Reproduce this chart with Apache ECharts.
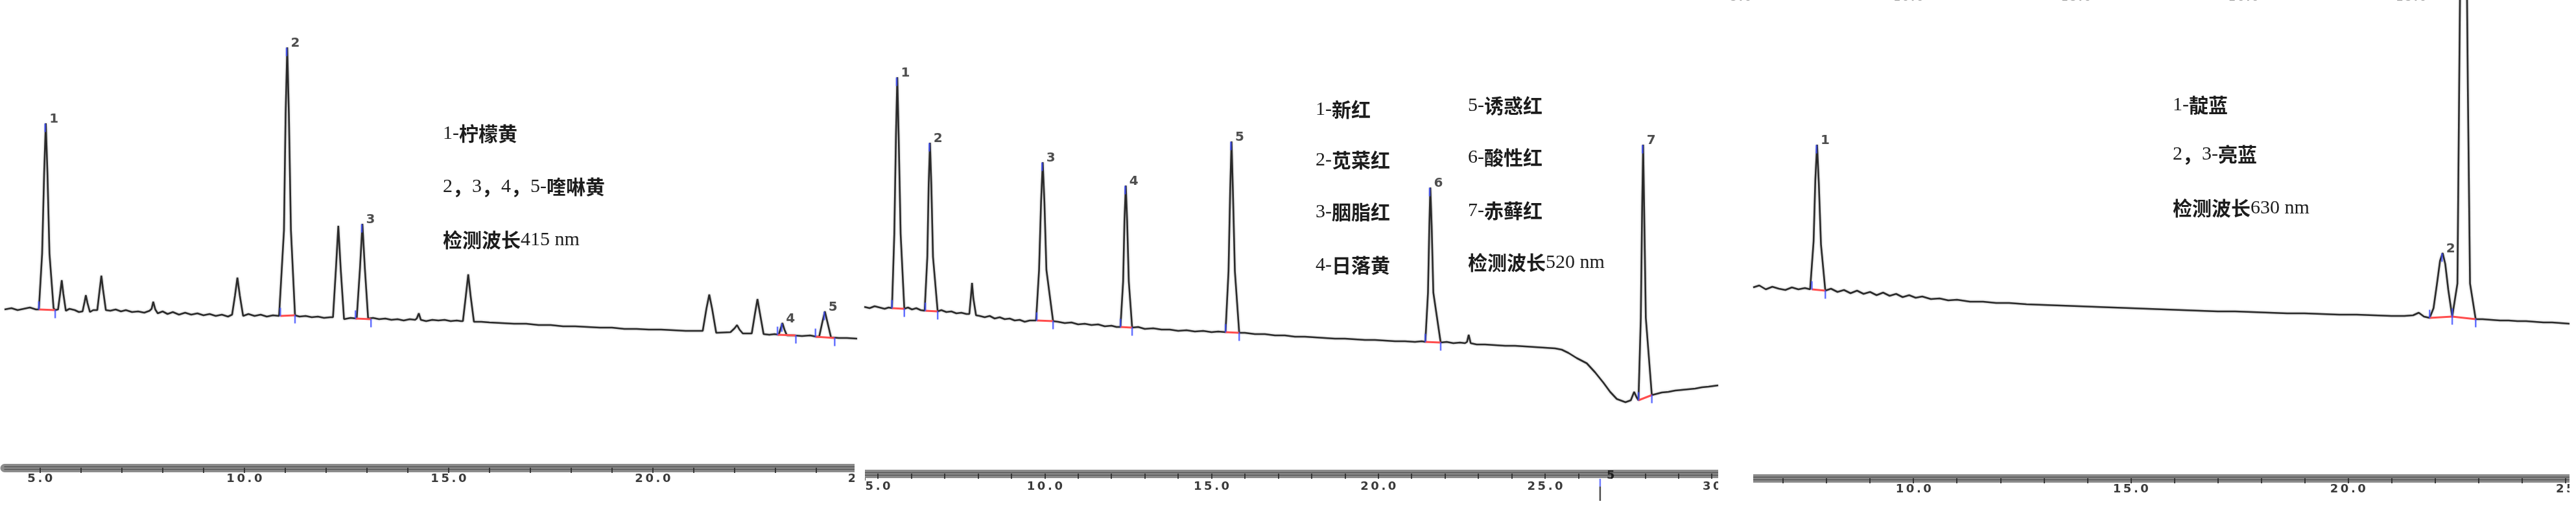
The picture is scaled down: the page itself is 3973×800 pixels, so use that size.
<!DOCTYPE html>
<html><head><meta charset="utf-8">
<script src="https://cdn.jsdelivr.net/npm/echarts@6/dist/echarts.min.js"></script>
<style>html,body{margin:0;padding:0;background:#fff}#c{width:3973px;height:800px}</style>
</head><body><div id="c"></div>
<script>
// ---------------- DATA (retention time in min, detector signal in arbitrary units) ----------------
// Panel 1 : 415 nm
const p1Trace = [[4.13,244],[4.3,246],[4.45,243],[4.6,245],[4.75,247],[4.9,244],
 [4.97,244],[5.05,330],[5.10,455],[5.14,531],[5.18,455],[5.23,330],[5.33,246],[5.37,243],
 [5.44,244],[5.49,268],[5.53,289],[5.57,268],[5.63,242],[5.72,245],[5.85,243],[5.95,240],
 [6.04,241],[6.09,256],[6.12,266],[6.16,254],[6.22,240],[6.3,243],
 [6.40,243],[6.46,275],[6.50,296],[6.54,275],[6.61,243],
 [6.72,242],[6.85,244],[6.98,241],[7.1,243],[7.25,240],[7.4,241],[7.55,239],[7.68,242],
 [7.73,245],[7.77,256],[7.82,244],[7.88,238],
 [8.0,241],[8.12,237],[8.25,240],[8.4,236],[8.55,239],[8.7,236],[8.85,238],[9.0,235],[9.15,237],[9.3,234],[9.45,236],[9.6,233],
 [9.70,236],[9.77,265],[9.83,293],[9.89,265],[9.97,234],
 [10.1,237],[10.25,234],[10.4,236],[10.55,233],[10.7,235],[10.85,234],
 [10.88,234],[10.97,366],[11.01,545],[11.05,648],[11.09,545],[11.14,366],[11.24,235],
 [11.35,233],[11.5,234],[11.65,232],[11.8,233],[11.95,231],[12.1,232],
 [12.17,232],[12.24,305],[12.30,373],[12.36,305],[12.44,229],[12.6,231],
 [12.75,230],[12.83,307],[12.89,376],[12.95,307],[13.03,230],
 [13.15,231],[13.3,229],[13.45,230],[13.6,228],[13.75,229],[13.9,227],[14.05,229],[14.18,228],
 [14.22,230],[14.27,238],[14.32,228],
 [14.45,226],[14.6,228],[14.75,227],[14.9,228],[15.05,226],[15.2,227],[15.3,226],
 [15.35,226],[15.42,264],[15.48,298],[15.54,264],[15.62,225],
 [15.8,225],[16.0,224],[16.3,223],[16.6,222],[16.9,222],[17.2,220],[17.5,220],[17.8,218],[18.1,218],[18.4,217],[18.7,216],[19.0,216],[19.3,214],[19.6,214],[19.9,213],[20.2,213],[20.5,212],[20.8,211],[21.1,211],
 [21.22,211],[21.31,245],[21.38,267],[21.45,245],[21.55,208],
 [21.9,209],[22.0,215],[22.06,220],[22.12,213],[22.2,207],
 [22.42,207],[22.50,238],[22.56,260],[22.62,238],[22.71,206],
 [22.85,205],[22.98,206],
 [23.08,205],[23.13,215],[23.17,223],[23.22,213],[23.28,204],
 [23.45,204],[23.65,203],[23.85,204],[24.0,202],
 [24.07,202],[24.15,225],[24.21,241],[24.27,225],[24.36,201],
 [24.55,200],[24.75,200],[25.0,199]];
const p1PeakNames = ['1','2','3','4','5'];
const p1Apex  = [[5.14,531],[11.05,648],[12.89,376],[23.17,223],[24.21,241]];
const p1Start = [[4.97,244],[10.88,234],[12.72,230],[23.05,205],[23.98,202]];
const p1End   = [[5.37,243],[11.24,235],[13.10,229],[23.50,204],[24.45,200]];
const p1TickValues  = [5,6,7,8,9,10,11,12,13,14,15,16,17,18,19,20,21,22,23,24,25];
const p1LabelValues = [5,10,15,20,25];
const p1LabelText   = ['5.0','10.0','15.0','20.0','25'];
const p1Notes = ['1-柠檬黄','2，3，4，5-喹啉黄','检测波长415 nm'];

// Panel 2 : 520 nm
const p2Trace = [[4.59,257],[4.75,255],[4.9,258],[5.05,256],[5.2,254],[5.32,256],
 [5.42,255],[5.49,369],[5.54,522],[5.58,611],[5.62,522],[5.68,369],[5.79,254],
 [5.9,256],[6.02,253],[6.15,255],[6.28,252],
 [6.40,251],[6.48,334],[6.52,445],[6.56,510],[6.60,445],[6.65,334],[6.79,250],
 [6.9,252],[7.05,249],[7.2,250],[7.35,247],[7.5,248],[7.65,246],
 [7.74,246],[7.79,275],[7.82,294],[7.86,270],[7.94,244],
 [8.05,243],[8.2,241],[8.35,243],[8.5,239],[8.65,241],[8.8,238],[8.95,239],[9.1,236],[9.25,237],[9.4,234],[9.55,236],
 [9.74,236],[9.83,314],[9.89,419],[9.94,480],[9.99,419],[10.05,314],[10.25,235],
 [10.4,234],[10.6,232],[10.8,233],[11.0,230],[11.2,231],[11.4,229],[11.6,230],[11.8,227],[12.0,228],[12.15,226],
 [12.27,226],[12.35,296],[12.39,390],[12.43,444],[12.47,390],[12.52,296],[12.62,225],
 [12.8,226],[13.0,223],[13.25,224],[13.5,222],[13.75,222],[14.0,220],[14.25,221],[14.5,219],[14.75,220],[15.0,218],[15.2,219],
 [15.42,218],[15.51,312],[15.56,438],[15.60,512],[15.64,438],[15.70,312],[15.83,217],
 [16.0,217],[16.3,215],[16.6,215],[16.9,213],[17.2,213],[17.5,211],[17.8,211],[18.1,210],[18.4,209],[18.7,208],[19.0,208],[19.3,207],[19.6,206],[19.9,206],[20.2,205],[20.5,204],[20.8,204],[21.1,203],[21.3,204],
 [21.41,203],[21.49,279],[21.53,382],[21.56,441],[21.60,382],[21.65,279],[21.87,202],
 [22.05,203],[22.25,201],[22.45,202],[22.6,201],
 [22.66,203],[22.71,214],[22.77,201],
 [22.95,199],[23.2,199],[23.5,198],[23.8,197],[24.1,197],[24.4,196],[24.7,195],[25.0,194],[25.3,193],[25.5,191],
 [25.7,186],[25.95,178],[26.25,170],[26.5,156],[26.75,140],[26.95,126],[27.15,115],[27.41,110],[27.57,113],[27.67,126],[27.74,118],
 [27.80,113],[27.87,240],[27.91,410],[27.94,507],[27.97,410],[28.02,240],[28.20,121],
 [28.35,123],[28.5,125],[28.7,126],[28.9,128],[29.1,129],[29.3,130],[29.5,131],[29.7,133],[29.9,134],[30.19,136]];
const p2PeakNames = ['1','2','3','4','5','6','7'];
const p2Apex  = [[5.58,611],[6.56,510],[9.94,480],[12.43,444],[15.60,512],[21.56,441],[27.94,507]];
const p2Start = [[5.42,255],[6.42,251],[9.76,236],[12.27,226],[15.42,218],[21.41,203],[27.80,113]];
const p2End   = [[5.79,254],[6.79,250],[10.25,235],[12.62,225],[15.83,217],[21.87,202],[28.20,121]];
const p2EventTime = 26.65;
const p2TickValues  = [5,6,7,8,9,10,11,12,13,14,15,16,17,18,19,20,21,22,23,24,25,26,27,28,29,30];
const p2LabelValues = [5,10,15,20,25,30];
const p2LabelText   = ['5.0','10.0','15.0','20.0','25.0','30'];
const p2NotesLeft  = ['1-新红','2-苋菜红','3-胭脂红','4-日落黄'];
const p2NotesRight = ['5-诱惑红','6-酸性红','7-赤藓红','检测波长520 nm'];

// Panel 3 : 630 nm
const p3Trace = [[6.31,294],[6.45,297],[6.6,291],[6.75,295],[6.9,292],[7.05,290],[7.2,294],[7.35,291],[7.5,293],
 [7.62,291],[7.70,365],[7.74,460],[7.78,514],[7.82,455],[7.87,360],[7.97,289],
 [8.1,292],[8.25,287],[8.4,290],[8.55,285],[8.7,289],[8.85,284],[9.0,287],[9.15,282],[9.3,286],[9.45,281],[9.6,284],[9.75,279],[9.9,282],[10.05,278],[10.2,280],[10.4,276],[10.6,277],[10.8,274],[11.0,275],[11.3,272],[11.6,272],[11.9,270],[12.2,270],[12.6,268],[13.0,267],[13.4,266],[13.8,265],[14.2,264],[14.6,263],[15.0,262],[15.4,261],[15.8,260],[16.2,259],[16.6,258],[17.0,257],[17.4,257],[17.8,256],[18.2,255],[18.6,254],[19.0,254],[19.4,253],[19.8,252],[20.2,252],[20.6,251],[21.0,250],[21.3,250],[21.5,251],[21.63,255],[21.75,249],[21.88,247],
 [21.97,262],[22.05,300],[22.12,335],[22.18,347],[22.24,330],[22.31,290],[22.40,249],
 [22.52,300],[22.56,600],[22.60,900],[22.66,1150],[22.72,900],[22.76,600],[22.81,300],[22.94,245],
 [23.1,245],[23.3,244],[23.5,243],[23.7,243],[23.9,242],[24.1,242],[24.3,241],[24.5,240],[24.7,240],[24.9,239],[25.1,238]];
const p3PeakNames = ['1','2','3'];
const p3Apex  = [[7.78,514],[22.18,347],[22.66,1150]];
const p3Start = [[7.66,291],[21.88,247],[22.40,249]];
const p3End   = [[7.97,289],[22.40,249],[22.94,245]];
const p3TickValues  = [7,8,9,10,11,12,13,14,15,16,17,18,19,20,21,22,23,24,25];
const p3LabelValues = [10,15,20,25];
const p3LabelText   = ['10.0','15.0','20.0','25'];
const p3Notes = ['1-靛蓝','2，3-亮蓝','检测波长630 nm'];
// cut-off scale labels of a chart above (top edge of panel 3)
const p3TopLabelValues = [5,10,15,20,25];
const p3TopLabelText   = ['5.0','10.0','15.0','20.0','25.0'];

// ---------------- LAYOUT / STYLE ----------------
const panels = [
  {trace:p1Trace, names:p1PeakNames, apex:p1Apex, start:p1Start, end:p1End, ticks:p1TickValues, lv:p1LabelValues, lt:p1LabelText,
   left:7, width:1315, axisY:721, min:4.13, max:25.0, margin:8},
  {trace:p2Trace, names:p2PeakNames, apex:p2Apex, start:p2Start, end:p2End, ticks:p2TickValues, lv:p2LabelValues, lt:p2LabelText,
   left:1333, width:1317, axisY:730, min:4.59, max:30.19, margin:11},
  {trace:p3Trace, names:p3PeakNames, apex:p3Apex, start:p3Start, end:p3End, ticks:p3TickValues, lv:p3LabelValues, lt:p3LabelText,
   left:2704, width:1259, axisY:737, min:6.31, max:25.10, margin:8}
];
const AX_FONT = "'DejaVu Sans', sans-serif";
const SERIF = "'Liberation Serif', serif";
const CJK = "'Noto Sans CJK SC', sans-serif";
const spaced = s => s.split('').join('\u2009');

const grid = [], xAxis = [], yAxis = [], series = [];
panels.forEach((p, i) => {
  grid.push({left:p.left, top:0, width:p.width, height:p.axisY, outerBoundsMode:'none', containLabel:false});
  yAxis.push({type:'value', gridIndex:i, min:0, max:p.axisY, show:false});
  xAxis.push({type:'value', gridIndex:i, position:'bottom', min:p.min, max:p.max,
    axisLine:{show:true, onZero:false, lineStyle:{color:'#8c8c8c', width:13}},
    axisTick:{show:true, customValues:p.ticks, length:8, lineStyle:{color:'#2e2e2e', width:1.8}},
    axisLabel:{show:true, customValues:p.lv, margin:p.margin, fontSize:18, fontWeight:'bold', fontFamily:AX_FONT, color:'#3a3a3a',
      formatter: v => spaced(p.lt[p.lv.indexOf(v)] || '')},
    splitLine:{show:false}});
});
// darker inner lines of the axis bars
panels.forEach((p, i) => {
  [-2, 2].forEach(off => xAxis.push({type:'value', gridIndex:i, position:'bottom', offset:off, min:p.min, max:p.max,
    axisLine:{show:true, onZero:false, lineStyle:{color:'#555', width:1.4}},
    axisTick:{show:false}, axisLabel:{show:false}, splitLine:{show:false}}));
});
// phantom top labels (panel 3)
grid.push({left:2660, top:5, width:1313, height:10, outerBoundsMode:'none', containLabel:false});
yAxis.push({type:'value', gridIndex:3, min:0, max:1, show:false});
xAxis.push({type:'value', gridIndex:3, position:'top', min:4.52, max:29.91,
  axisLine:{show:false}, axisTick:{show:false}, splitLine:{show:false},
  axisLabel:{show:true, customValues:p3TopLabelValues, margin:0, fontSize:15, fontWeight:'bold', fontFamily:AX_FONT, color:'#999',
    formatter: v => spaced(p3TopLabelText[p3TopLabelValues.indexOf(v)] || '')}});

panels.forEach((p, i) => {
  series.push({type:'line', xAxisIndex:i, yAxisIndex:i, data:p.trace, showSymbol:false, silent:true, z:2,
    lineStyle:{color:'#2a2a2a', width:2.6, shadowBlur:3, shadowColor:'rgba(0,0,0,0.35)'}});
  series.push({type:'lines', coordinateSystem:'cartesian2d', xAxisIndex:i, yAxisIndex:i, silent:true, z:3,
    lineStyle:{color:'#ff4d4d', width:3, opacity:1},
    data:p.start.map((s, k) => ({coords:[s, p.end[k]]}))});
  const ticks = [];
  p.start.forEach(s => ticks.push({value:s, symbolOffset:[0,-6]}));
  p.end.forEach(e => ticks.push({value:e, symbolOffset:[0,6]}));
  p.apex.forEach(a => ticks.push({value:a, symbolOffset:[-1,7]}));
  series.push({type:'scatter', xAxisIndex:i, yAxisIndex:i, data:ticks, symbol:'rect', symbolSize:[2.5,13], silent:true, z:4,
    itemStyle:{color:'#3d4dff'}});
  series.push({type:'scatter', xAxisIndex:i, yAxisIndex:i, silent:true, z:5, symbolSize:1, itemStyle:{color:'rgba(0,0,0,0)'},
    data:p.apex.map((a, k) => ({value:a, name:p.names[k]})),
    label:{show:true, formatter:'{b}', position:'right', distance:5, offset:[0,-6], fontSize:20, fontWeight:'bold',
      fontFamily:AX_FONT, color:'#222'}});
});
// event marker on panel 2 time axis
series.push({type:'scatter', xAxisIndex:1, yAxisIndex:1, clip:false, silent:true, z:6, symbol:'rect',
  data:[{value:[p2EventTime,-31], symbolSize:[2.5,22], itemStyle:{color:'#222'}},
        {value:[p2EventTime,-14], symbolSize:[2.5,12], itemStyle:{color:'#4a5aff'}},
        {value:[p2EventTime+0.32,-3], symbolSize:0, label:{show:true, formatter:'5', position:'inside', fontSize:18, fontWeight:'bold', color:'#111', fontFamily:AX_FONT}}]});

// annotation text blocks: CJK runs in bold sans, digits/latin in serif
const richText = t => t.replace(/([\u3000-\u9fff\uff00-\uffef]+)|([^\u3000-\u9fff\uff00-\uffef]+)/g,
  (m, c, l) => c ? '{c|' + c + '}' : '{l|' + l + '}');
const noteStyle = t => ({text:richText(t), align:'left', verticalAlign:'middle',
  rich:{c:{fontSize:30, fontWeight:'bold', fontFamily:CJK, fill:'#1c1c1c'},
        l:{fontSize:30, fontFamily:SERIF, fill:'#1c1c1c'}}});
const graphic = [];
p1Notes.forEach((t, k) => graphic.push({type:'text', x:683, y:[206,288,370][k], style:noteStyle(t), z:50}));
p2NotesLeft.forEach((t, k) => graphic.push({type:'text', x:2029, y:[169,247,327,409][k], style:noteStyle(t), z:50}));
p2NotesRight.forEach((t, k) => graphic.push({type:'text', x:2264, y:[163,243,325,405][k], style:noteStyle(t), z:50}));
p3Notes.forEach((t, k) => graphic.push({type:'text', x:3351, y:[162,238,321][k], style:noteStyle(t), z:50}));
// panel crop edges
[[1318,690,16,90],[2650,690,54,100],[3963,690,10,100]].forEach(r =>
  graphic.push({type:'rect', shape:{x:r[0], y:r[1], width:r[2], height:r[3]}, style:{fill:'#fff'}, z:100}));

const chart = echarts.init(document.getElementById('c'), null, {renderer:'canvas'});
chart.setOption({animation:false, backgroundColor:'#fff', grid, xAxis, yAxis, series, graphic});
</script></body></html>
